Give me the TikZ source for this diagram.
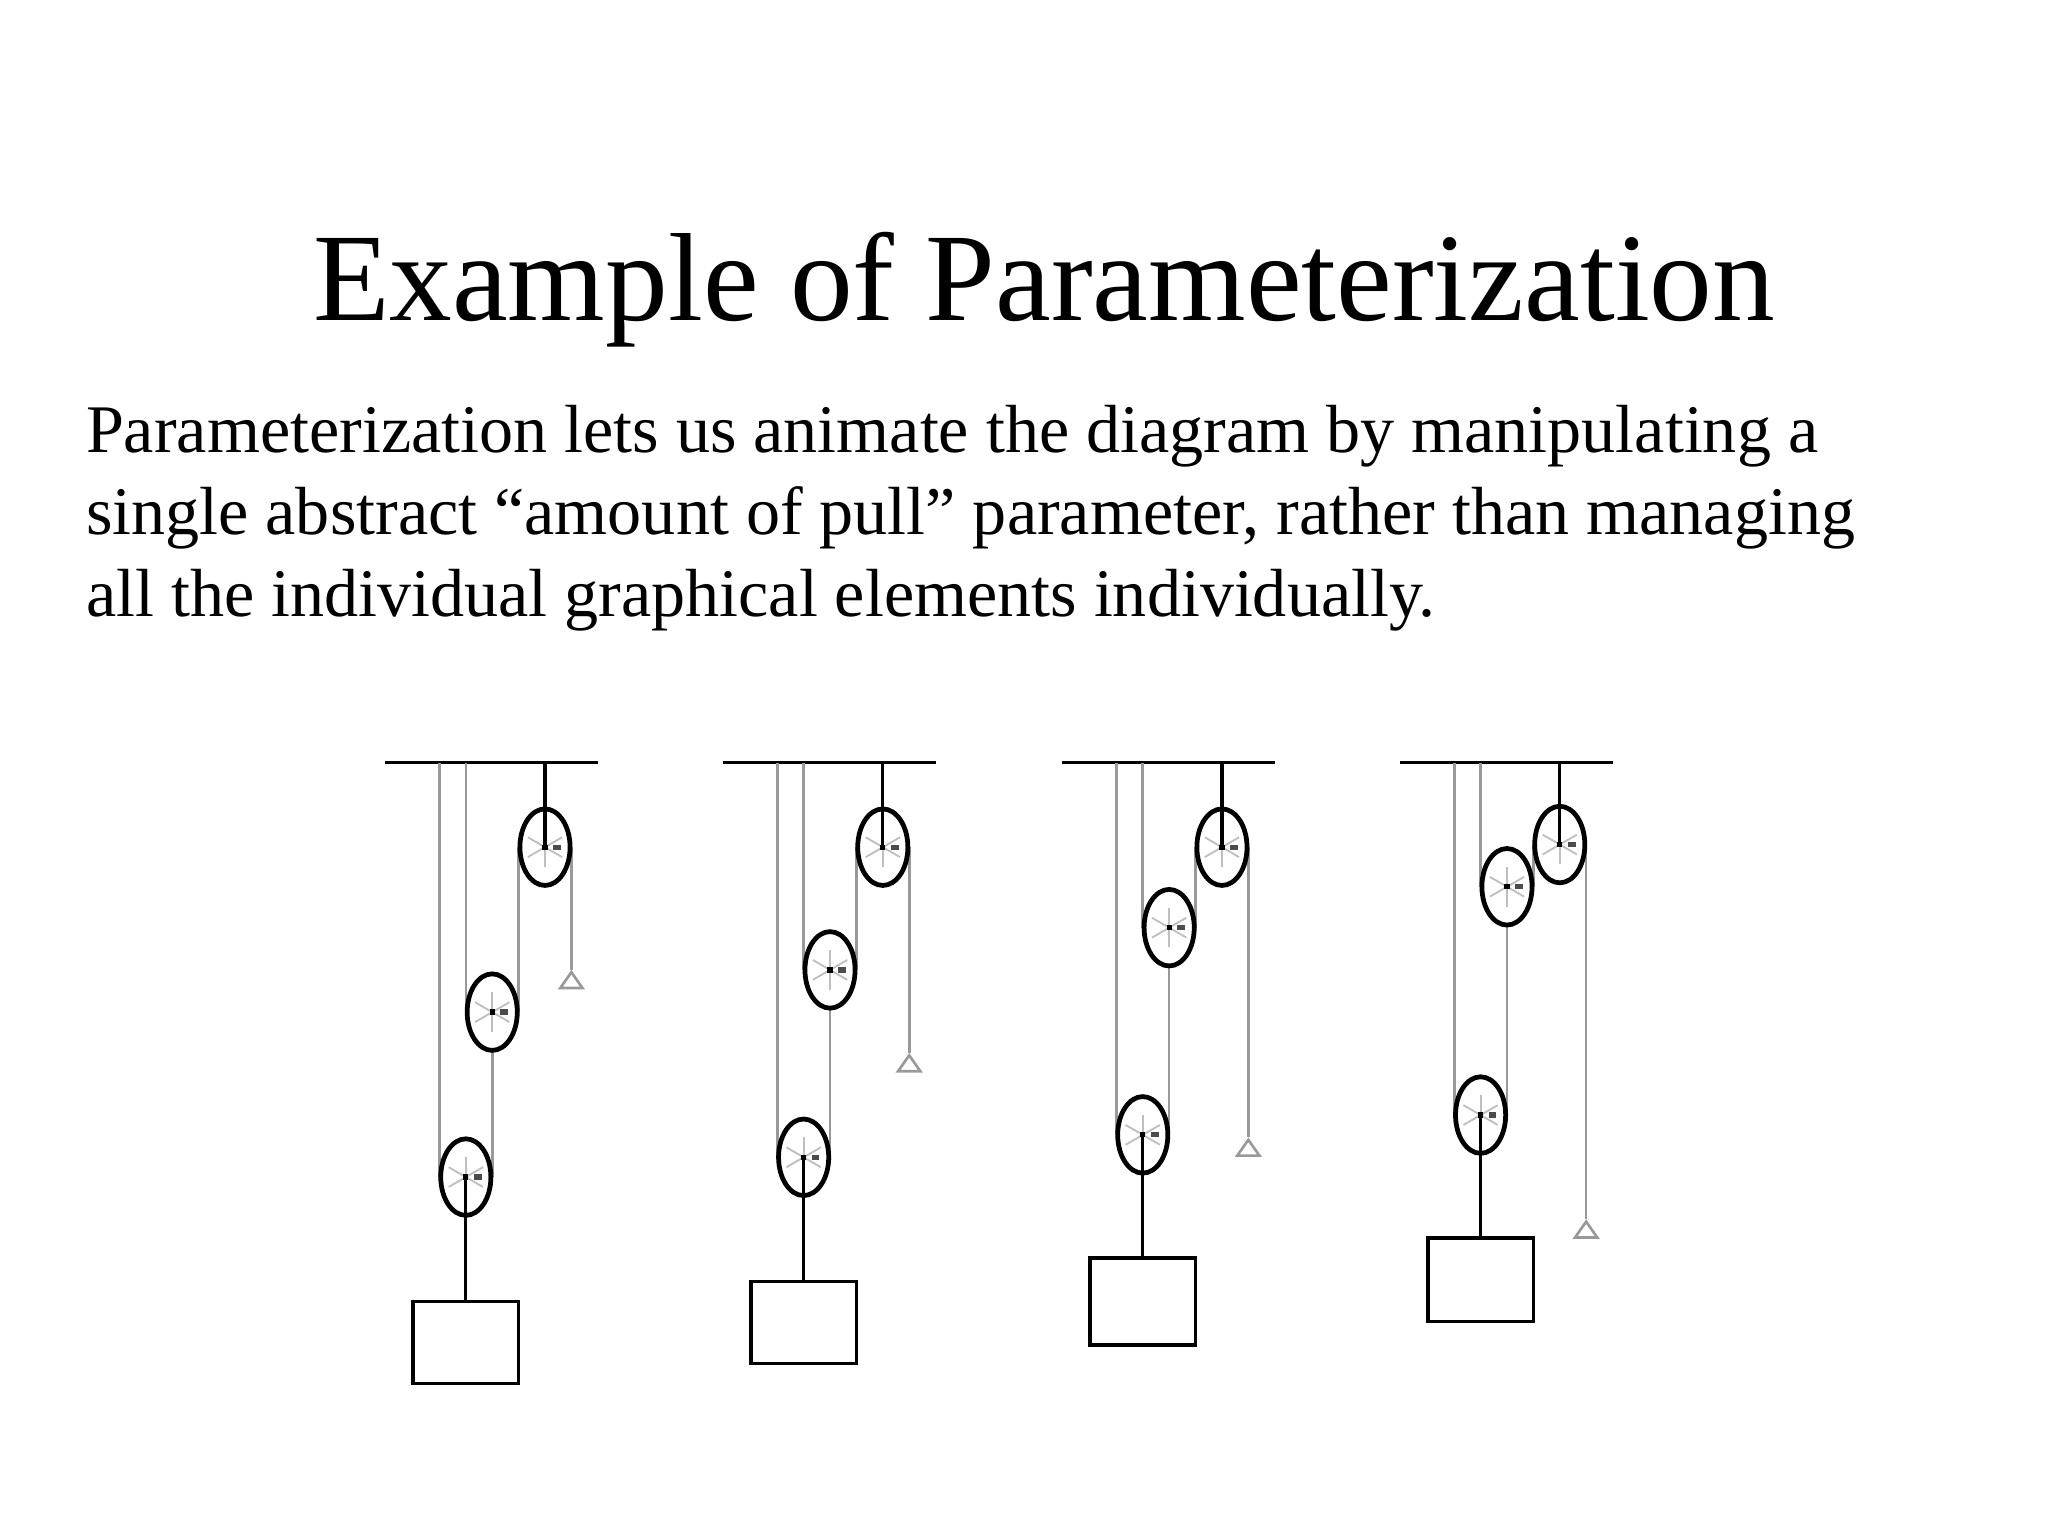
\documentclass[tikz,border=0pt]{standalone}
\usepackage{fontspec}
\setmainfont{Liberation Serif}
\usetikzlibrary{shapes.geometric}
\begin{document}
\begin{tikzpicture}[x=1pt,y=-1pt,
  pul/.style={ellipse,draw=black,line width=3.6pt,fill=white,minimum width=38pt,minimum height=58pt,inner sep=0pt},
  rope/.style={draw=black!40,line width=2pt},
  hang/.style={draw=black,line width=2.4pt},
  txt/.style={anchor=base west,font=\fontsize{51.6}{62}\selectfont,inner sep=0pt},
  bx/.style={draw=black,line width=2.6pt,minimum width=80pt,inner sep=0pt}]
\useasboundingbox (0,0) rectangle (1552,1164);
\node[anchor=base west,font=\fontsize{95}{95}\selectfont,inner sep=0pt] (title) at (237,243) {Example of Parameterization};
\node[txt] (l1) at (65,343) {Parameterization lets us animate the diagram by manipulating a};
\node[txt] (l2) at (65,405) {single abstract “amount of pull” parameter, rather than managing};
\node[txt] (l3) at (65,467) {all the individual graphical elements individually.};
\foreach \i/\b/\yt/\ym/\yb/\ytri/\bt/\bb in {1/353/642/767/892/735/985/1047, 2/609/642/735/877/798/970/1032, 3/866/642/703/860/862/952/1018, 4/1122/640/672/845/924/937/1000}{
  \coordinate (cl\i) at (\b-61,578);
  \coordinate (cr\i) at (\b+100,578);
  \draw[hang] (cl\i) -- (cr\i);
  \draw[rope] (\b-20,578) -- (\b-20,\yb);
  \draw[rope] (\b,578) -- (\b,\ym);
  \draw[rope] (\b+40,\yt) -- (\b+40,\ym);
  \draw[rope] (\b+20,\ym) -- (\b+20,\yb);
  \draw[rope] (\b+80,\yt) -- (\b+80,\ytri);
  \node[draw=black!40,line width=2pt,isosceles triangle,isosceles triangle apex angle=70,shape border rotate=90,minimum height=12pt,minimum width=16pt,inner sep=0pt,anchor=apex] (tri\i) at (\b+80,\ytri) {};
  \foreach \n/\x/\y in {t/\b+60/\yt, m/\b+20/\ym, b/\b/\yb}{
    \node[pul] (p\i\n) at (\x,\y) {};
    \foreach \a in {30,90,150,210,270,330}
      \draw[black!25,line width=1.4pt] (\x,\y) -- ++(\a:15);
    \fill[black] (\x-2,\y-2) rectangle (\x+2,\y+2);
    \fill[black!70] (\x+6,\y-2) rectangle (\x+12,\y+2);
  }
  \draw[hang] (\b+60,578) -- (\b+60,\yt);
  \node[bx,minimum height={\bb-\bt},anchor=north] (box\i) at (\b,\bt) {};
  \draw[hang] (p\i b.center) -- (box\i.north);
}
\end{tikzpicture}
\end{document}
